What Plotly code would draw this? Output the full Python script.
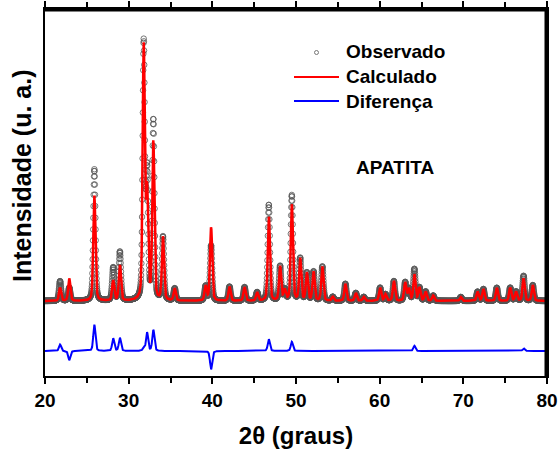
import numpy as np
import plotly.graph_objects as go

# ---- data (2theta in degrees, intensity in arbitrary units) ----
peak_pos = [21.8, 22.9, 25.9, 28.15, 28.95, 31.8, 32.2, 32.95, 34.1, 35.5,
            39.2, 39.85, 42.05, 43.85, 45.35, 46.75, 48.1, 48.65, 49.5, 50.5,
            51.3, 52.1, 53.15, 54.4, 55.9, 57.15, 58.1, 60.05, 60.7, 61.7,
            63.05, 63.5, 64.15, 64.75, 65.5, 66.4, 69.7, 71.7, 72.4, 74.0,
            75.6, 76.3, 77.2, 78.3]
calc_height = [5.0, 8.5, 40.0, 7.7, 13.5, 96.0, 40.0, 60.0, 24.0, 4.6,
               5.5, 28.0, 5.4, 5.2, 3.2, 32.0, 13.0, 4.0, 36.5, 16.0,
               10.5, 11.0, 13.0, 1.5, 6.5, 3.0, 1.5, 5.0, 2.5, 7.5,
               7.0, 4.5, 10.0, 5.0, 3.5, 2.0, 1.5, 3.5, 4.5, 5.0,
               5.0, 3.5, 8.5, 6.0]
obs_height = [7.5, 5.0, 50.0, 12.5, 18.5, 97.0, 47.0, 68.0, 24.0, 4.6,
              5.5, 21.0, 5.4, 5.2, 3.2, 36.5, 13.0, 4.0, 40.0, 16.0,
              10.5, 11.0, 13.0, 1.5, 6.5, 3.0, 1.5, 5.0, 2.5, 7.5,
              7.0, 4.5, 12.0, 5.0, 3.5, 2.0, 1.5, 3.5, 4.5, 5.0,
              5.0, 3.5, 9.5, 6.0]
peak_fwhm = 0.30
step = 0.02
diff_offset = -19.0

two_theta = np.arange(20.0, 80.0 + step / 2, step)


def pattern(heights):
    y = np.zeros_like(two_theta)
    hw = peak_fwhm / 2
    for p, h in zip(peak_pos, heights):
        d = two_theta - p
        lor = 1.0 / (1.0 + (d / hw) ** 2)
        gau = np.exp(-np.log(2) * (d / hw) ** 2)
        y += h * (0.35 * lor + 0.65 * gau)
    return y


y_calc = pattern(calc_height)
y_obs = pattern(obs_height)
y_diff = y_obs - y_calc + diff_offset

fig = go.Figure()
fig.add_trace(go.Scatter(
    x=two_theta, y=y_obs, mode="markers", name="Observado",
    marker=dict(symbol="circle-open", size=5.5, color="#555555",
                line=dict(width=0.8, color="#555555")),
    showlegend=False))
fig.add_trace(go.Scatter(
    x=two_theta, y=y_calc, mode="lines", name="Calculado",
    line=dict(color="#ff0000", width=2.5), showlegend=False))
fig.add_trace(go.Scatter(
    x=two_theta, y=y_diff, mode="lines", name="Diferença",
    line=dict(color="#0000ff", width=2), showlegend=False))

W, H = 560, 457
L, R, T, B = 45, 13, 9, 81
pw, ph = W - L - R, H - T - B


def px(xp):
    return (xp - L) / pw


def py(yp):
    return (H - B - yp) / ph


font_family = "Liberation Sans, Arial, sans-serif"
shapes = [
    # top and right frame edges
    dict(type="line", xref="paper", yref="paper", x0=0, x1=px(547.5), y0=py(10), y1=py(10),
         line=dict(color="black", width=3), layer="above"),
    dict(type="line", xref="paper", yref="paper", x0=px(546), x1=px(546), y0=0, y1=py(8.5),
         line=dict(color="black", width=3), layer="above"),
    dict(type="line", xref="paper", yref="paper", x0=px(294), x1=px(339),
         y0=py(77), y1=py(77), line=dict(color="#ff0000", width=2)),
    dict(type="line", xref="paper", yref="paper", x0=px(294), x1=px(339),
         y0=py(101), y1=py(101), line=dict(color="#0000ff", width=2)),
    dict(type="circle", xref="paper", yref="paper", xsizemode="pixel",
         ysizemode="pixel", xanchor=px(316.5), yanchor=py(52.5),
         x0=-2, x1=2, y0=-2, y1=2, line=dict(color="#777777", width=1)),
]
annotations = []
for label, yy in [("Observado", 52), ("Calculado", 77), ("Diferença", 101)]:
    annotations.append(dict(
        text=f"<b>{label}</b>", xref="paper", yref="paper", x=px(344), y=py(yy),
        xanchor="left", yanchor="middle", showarrow=False,
        font=dict(size=19, color="black", family=font_family)))
annotations.append(dict(
    text="<b>APATITA</b>", xref="paper", yref="paper", x=px(395), y=py(168),
    xanchor="center", yanchor="middle", showarrow=False,
    font=dict(size=19, color="black", family=font_family)))
annotations.append(dict(
    text="<b>Intensidade (u. a.)</b>", xref="paper", yref="paper",
    x=px(22), y=py(176), xanchor="center", yanchor="middle", showarrow=False,
    textangle=-90, font=dict(size=25, color="black", family=font_family)))

fig.update_layout(
    width=W, height=H,
    margin=dict(l=L, r=R, t=T, b=B, autoexpand=False),
    paper_bgcolor="white", plot_bgcolor="white",
    font=dict(family=font_family, color="black"),
    shapes=shapes, annotations=annotations,
    xaxis=dict(
        range=[20, 80], tickmode="array",
        tickvals=[20, 30, 40, 50, 60, 70, 80],
        ticktext=["<b>20</b>", "<b>30</b>", "<b>40</b>", "<b>50</b>",
                  "<b>60</b>", "<b>70</b>", "<b>80</b>"],
        ticks="outside", ticklen=6, tickwidth=2, tickcolor="black",
        minor=dict(tickmode="array", tickvals=[25, 35, 45, 55, 65, 75],
                   ticks="outside", ticklen=5, tickwidth=2, tickcolor="black"),
        showline=True, linecolor="black", linewidth=2, mirror="all",
        showgrid=False, zeroline=False,
        tickfont=dict(size=19, color="black", family=font_family),
        title=dict(text="<b>2θ (graus)</b>", standoff=17,
                   font=dict(size=24, color="black", family=font_family)),
    ),
    yaxis=dict(
        range=[-28.5, 111], showticklabels=False, ticks="",
        showline=True, linecolor="black", linewidth=2, mirror="all",
        showgrid=False, zeroline=False,
    ),
)

fig.write_html(
    "out.html",
    config={"displayModeBar": False},
    post_script="document.body.style.margin='0';document.body.style.padding='0';",
)
